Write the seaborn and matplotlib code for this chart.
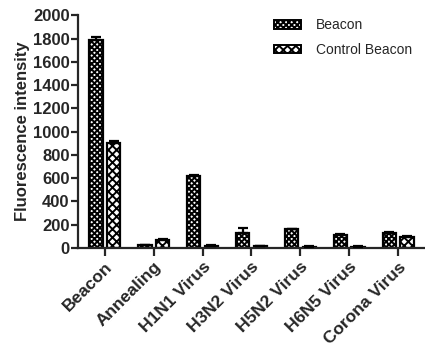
import matplotlib
matplotlib.use("Agg")
import matplotlib.pyplot as plt
from matplotlib.patches import Patch
import seaborn as sns
import pandas as pd

categories = ["Beacon", "Annealing", "H1N1 Virus", "H3N2 Virus", "H5N2 Virus", "H6N5 Virus", "Corona Virus"]
series_names = ["Beacon", "Control Beacon"]
beacon = [1790, 25, 620, 130, 160, 110, 130]
beacon_err = [20, 3, 10, 40, 5, 8, 8]
control = [905, 70, 20, 18, 12, 12, 95]
control_err = [12, 8, 3, 3, 3, 3, 6]
y_ticks = [0, 200, 400, 600, 800, 1000, 1200, 1400, 1600, 1800, 2000]

df = pd.DataFrame({
    "category": categories * 2,
    "series": [series_names[0]] * len(categories) + [series_names[1]] * len(categories),
    "value": beacon + control,
})

sns.set_style("ticks")
plt.rcParams["font.family"] = ["Liberation Sans", "DejaVu Sans"]
plt.rcParams["hatch.linewidth"] = 1.4

fig = plt.figure(figsize=(4.25, 3.51), dpi=100)
ax = fig.add_axes([0.1835, 0.2934, 0.8165, 0.663])

sns.barplot(data=df, x="category", y="value", hue="series", order=categories,
            hue_order=series_names, palette=["white", "white"], edgecolor="black",
            linewidth=1.6, width=0.72, gap=0.25, errorbar=None, ax=ax, legend=False)

hatches = ["xxxxxx", "xxxx"]
errs = [beacon_err, control_err]
bar_containers = list(ax.containers)
for ci, cont in enumerate(bar_containers):
    for bi, bar in enumerate(cont.patches):
        bar.set_hatch(hatches[ci])
        xc = bar.get_x() + bar.get_width() / 2
        h = bar.get_height()
        ax.errorbar([xc], [h], yerr=[[0], [errs[ci][bi]]], fmt="none", ecolor="black",
                    elinewidth=1.6, capsize=3.5, capthick=1.6, zorder=3)

ax.set_ylim(0, 2000)
ax.set_xlim(-0.55, 6.55)
ax.set_yticks(y_ticks)
ax.set_xlabel("")
ax.set_ylabel("Fluorescence intensity", fontsize=12, fontweight="bold", labelpad=2)
for s in ["top", "right"]:
    ax.spines[s].set_visible(False)
for s in ["left", "bottom"]:
    ax.spines[s].set_linewidth(1.6)
ax.tick_params(axis="both", width=1.6, length=5, pad=1)
ax.tick_params(axis="y", labelsize=12)
ax.tick_params(axis="x", length=6, labelsize=12.5, pad=2)
for lab in ax.get_yticklabels():
    lab.set_fontweight("bold")
plt.setp(ax.get_xticklabels(), rotation=45, ha="right", rotation_mode="anchor", fontweight="bold")

handles = [Patch(facecolor="white", edgecolor="black", hatch=hatches[i], linewidth=1.4, label=series_names[i])
           for i in range(2)]
ax.legend(handles=handles, loc="upper left", bbox_to_anchor=(0.53, 1.04), frameon=False,
          fontsize=10, handlelength=1.9, handleheight=0.6, labelspacing=0.75, handletextpad=1.1)

fig.savefig("out.png", dpi=100)
